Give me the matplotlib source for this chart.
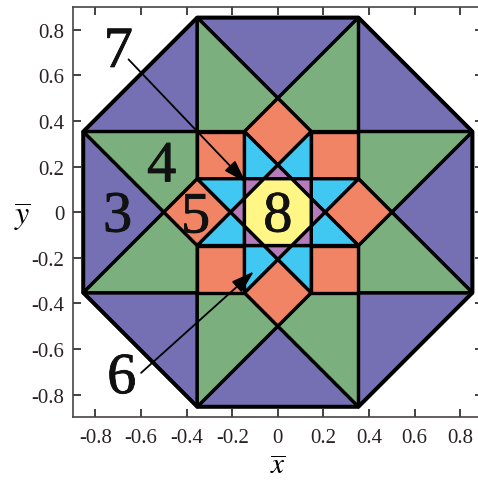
import numpy as np
import matplotlib
matplotlib.use("Agg")
import matplotlib.pyplot as plt
from matplotlib.patches import Polygon
import matplotlib.patheffects as pe

plt.rcParams["font.family"] = ["Liberation Serif", "DejaVu Serif"]
plt.rcParams["mathtext.fontset"] = "stix"
plt.rcParams["axes.unicode_minus"] = False

# --- geometry of the octagonal tiling -------------------------------------
a = np.sqrt(2) / 4      # half side of the outer octagon
H = a + 0.5             # apothem of the outer octagon
r_star = 0.5            # concave vertices of the {8/3} star
b = r_star - a          # half side of the central square
c = a - b               # inner vertex of the diamonds
d = c - b               # half side of the central octagon

# region colours
color_outer = "#7470B3"
color_green = "#7BB07E"
color_orange = "#F28466"
color_cyan = "#40C8F2"
color_mauve = "#B67BBA"
color_yellow = "#FFF685"

# base regions (upper part), repeated by quarter turns
outer_tri = [(-a, H), (a, H), (0, r_star)]
corner_tri = [(-H, a), (-a, H), (-a, a)]
green_left = [(-a, H), (0, r_star), (-b, a), (-a, a)]
green_right = [(a, H), (0, r_star), (b, a), (a, a)]
diamond = [(0, r_star), (b, a), (0, c), (-b, a)]
square = [(b, b), (a, b), (a, a), (b, a)]
cyan_left = [(-b, a), (0, c), (-d, b), (-b, b)]
cyan_right = [(b, a), (0, c), (d, b), (b, b)]
mauve_tip = [(-d, b), (d, b), (0, c)]
mauve_corner = [(b, b), (b, d), (d, b)]
center_oct = [(b, d), (d, b), (-d, b), (-b, d), (-b, -d), (-d, -b), (d, -b), (b, -d)]
outer_oct = [(a, H), (H, a), (H, -a), (a, -H), (-a, -H), (-H, -a), (-H, a), (-a, H)]

layers = [
    (outer_tri, color_outer),
    (corner_tri, color_outer),
    (green_left, color_green),
    (green_right, color_green),
    (diamond, color_orange),
    (square, color_orange),
    (cyan_left, color_cyan),
    (cyan_right, color_cyan),
    (mauve_tip, color_mauve),
    (mauve_corner, color_mauve),
]

# region labels: text, x, baseline y
label_text = ["3", "4", "5", "8", "6", "7"]
label_x = [-0.703, -0.51, -0.361, 0.0, -0.685, -0.70]
label_y = [-0.085, 0.135, -0.089, -0.085, -0.794, 0.637]

# arrows from labels 7 and 6: (start, tip)
arrow_start = [(-0.655, 0.67), (-0.60, -0.705)]
arrow_tip = [(-0.14, 0.13), (-0.105, -0.26)]

xticks = [-0.8, -0.6, -0.4, -0.2, 0, 0.2, 0.4, 0.6, 0.8]
xticklabels = ["-0.8", "-0.6", "-0.4", "-0.2", "0", "0.2", "0.4", "0.6", "0.8"]
yticks = xticks
yticklabels = xticklabels


def quarter_turn(pts, k):
    th = k * np.pi / 2
    R = np.array([[np.cos(th), -np.sin(th)], [np.sin(th), np.cos(th)]])
    return (np.asarray(pts) @ R.T)


fig = plt.figure(figsize=(4.78, 4.81), dpi=100)
W, Hpx = 478, 481
left_px, right_px, top_px, bot_px = 72.7, 483.0, 8.0, 418.3
ax = fig.add_axes([left_px / W, (Hpx - bot_px) / Hpx,
                   (right_px - left_px) / W, (bot_px - top_px) / Hpx])

lw = 2.4
for pts, col in layers:
    for k in range(4):
        ax.add_patch(Polygon(quarter_turn(pts, k), closed=True, facecolor=col,
                             edgecolor="black", linewidth=lw, joinstyle="round",
                             zorder=2))
ax.add_patch(Polygon(center_oct, closed=True, facecolor=color_yellow,
                     edgecolor="black", linewidth=lw, joinstyle="round", zorder=2))
ax.add_patch(Polygon(outer_oct, closed=True, facecolor="none",
                     edgecolor="black", linewidth=2.8, joinstyle="round", zorder=3))

for t, x, y in zip(label_text, label_x, label_y):
    ax.text(x, y, t, fontsize=42, ha="center", va="baseline", color="#111111",
            zorder=5,
            path_effects=[pe.withStroke(linewidth=0.6, foreground="#111111")])

for s, e in zip(arrow_start, arrow_tip):
    ax.annotate("", xy=e, xytext=s,
                arrowprops=dict(arrowstyle="-|>,head_length=0.7,head_width=0.22",
                                color="black", lw=1.3, mutation_scale=20,
                                shrinkA=0, shrinkB=0),
                zorder=6)

ax.set_xlim(-0.9, 0.9)
ax.set_ylim(-0.9, 0.9)
ax.set_xticks(xticks)
ax.set_xticklabels(xticklabels)
ax.set_yticks(yticks)
ax.set_yticklabels(yticklabels)
ax.tick_params(direction="in", length=6, width=1.2, top=True, right=True,
               labelsize=15, color="#222222", labelcolor="#2a2222")
ax.tick_params(axis="x", pad=8)
ax.tick_params(axis="y", pad=6)
for sp in ax.spines.values():
    sp.set_color("#4a4444")
    sp.set_linewidth(1.2)

ax.set_xlabel(r"$\overline{x}$", fontsize=21)
ax.set_ylabel(r"$\overline{y}$", fontsize=23, rotation=0)
ax.xaxis.set_label_coords(0.5, -0.088)
ax.yaxis.set_label_coords(-0.122, 0.49)
ax.xaxis.label.set_va("top")
ax.yaxis.label.set_va("center")
ax.yaxis.label.set_ha("center")

fig.savefig("out.png", dpi=100)
